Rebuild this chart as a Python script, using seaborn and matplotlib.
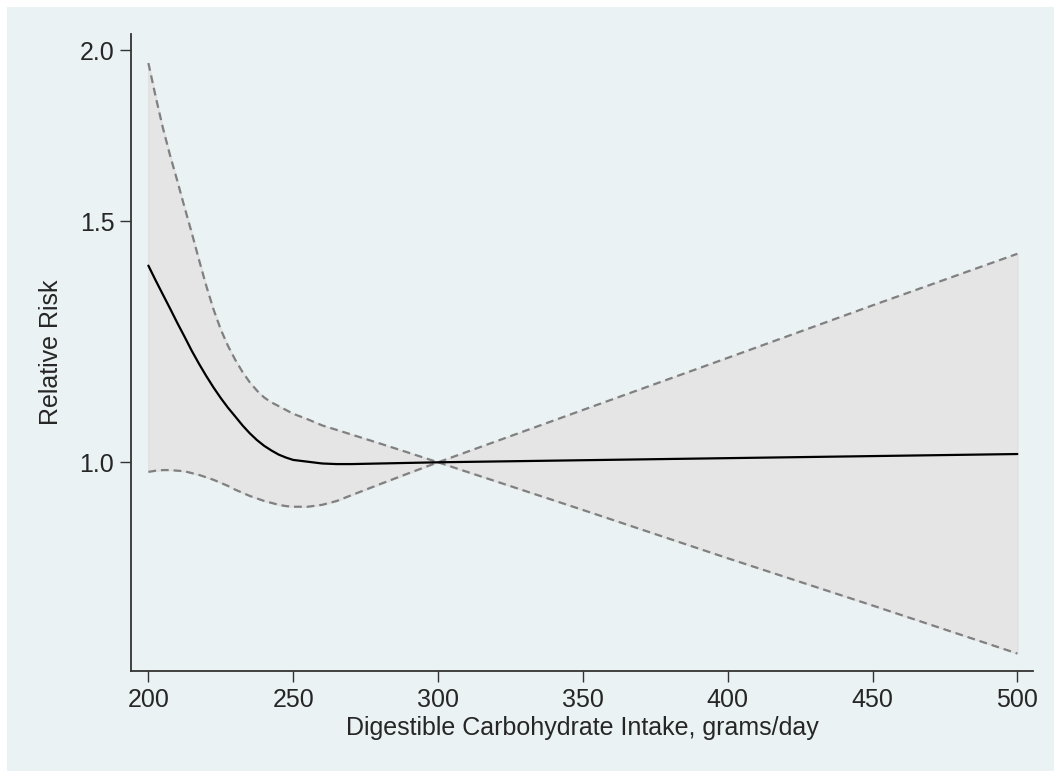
import numpy as np
import pandas as pd
import matplotlib
matplotlib.use("Agg")
import matplotlib.pyplot as plt
import seaborn as sns

# values (relative risk vs carbohydrate intake)
intake = [200, 202.5, 205, 207.5, 210, 212.5, 215, 217.5, 220, 222.5, 225,
          227.5, 230, 232.5, 235, 237.5, 240, 242.5, 245, 247.5, 250, 255,
          260, 265, 270, 280, 290, 300, 350, 400, 450, 500]
rr = [1.392, 1.358, 1.326, 1.295, 1.264, 1.235, 1.206, 1.180, 1.156, 1.134,
      1.114, 1.096, 1.080, 1.064, 1.050, 1.038, 1.028, 1.020, 1.013, 1.008,
      1.004, 1.001, 0.998, 0.997, 0.997, 0.998, 0.999, 1.000, 1.0035, 1.007,
      1.0105, 1.014]
rr_upper = [1.957, 1.850, 1.755, 1.675, 1.605, 1.535, 1.470, 1.405, 1.345,
            1.293, 1.250, 1.216, 1.188, 1.164, 1.144, 1.128, 1.115, 1.106,
            1.099, 1.092, 1.085, 1.075, 1.064, 1.056, 1.048, 1.032, 1.016,
            1.000, 1.092, 1.192, 1.302, 1.420]
rr_lower = [0.984, 0.986, 0.987, 0.987, 0.986, 0.985, 0.982, 0.979, 0.975,
            0.971, 0.966, 0.961, 0.955, 0.950, 0.945, 0.941, 0.937, 0.934,
            0.931, 0.929, 0.928, 0.928, 0.931, 0.937, 0.946, 0.964, 0.982,
            1.000, 0.923, 0.851, 0.786, 0.725]
yticks = [1.0, 1.5, 2.0]
xticks = [200, 250, 300, 350, 400, 450, 500]

df = pd.DataFrame({"intake": intake, "rr": rr, "upper": rr_upper, "lower": rr_lower})

sns.set_style("white")
plt.rcParams["font.family"] = ["Liberation Sans", "DejaVu Sans"]

bg = "#EAF2F3"
fig = plt.figure(figsize=(10.54, 7.71), dpi=100, facecolor=bg)
# thin white margin on the top and left edges
fig.patches.append(plt.Rectangle((0, 1 - 7 / 771), 1, 7 / 771,
                                 transform=fig.transFigure, facecolor="white",
                                 edgecolor="none", zorder=-10))
fig.patches.append(plt.Rectangle((0, 0), 7 / 1054, 1,
                                 transform=fig.transFigure, facecolor="white",
                                 edgecolor="none", zorder=-10))
ax = fig.add_axes([131 / 1054, 1 - 671 / 771, 902 / 1054, 637 / 771])
ax.set_facecolor(bg)

ax.fill_between(df["intake"], df["lower"], df["upper"], color="#E5E5E5",
                edgecolor="#E0E0E0", linewidth=1, zorder=1)
sns.lineplot(data=df, x="intake", y="upper", ax=ax, color="#808080",
             linewidth=1.6, dashes=(3.5, 2.2), zorder=2)
sns.lineplot(data=df, x="intake", y="lower", ax=ax, color="#808080",
             linewidth=1.6, dashes=(3.5, 2.2), zorder=2)
sns.lineplot(data=df, x="intake", y="rr", ax=ax, color="black",
             linewidth=1.6, zorder=3)

ax.set_yscale("log")
ax.set_xlim(194, 505.4)
ax.set_ylim(0.704, 2.055)
ax.set_yticks(yticks)
ax.set_yticklabels([f"{v:.1f}" for v in yticks])
ax.yaxis.set_minor_locator(matplotlib.ticker.NullLocator())
ax.set_xticks(xticks)
ax.set_xticklabels([str(v) for v in xticks])

for side in ["top", "right"]:
    ax.spines[side].set_visible(False)
for side in ["left", "bottom"]:
    ax.spines[side].set_color("#333333")
    ax.spines[side].set_linewidth(1.3)

ax.tick_params(axis="both", which="major", direction="out", length=8,
               width=1.0, color="#333333", labelsize=18, pad=4,
               left=True, bottom=True)
ax.set_xlabel("Digestible Carbohydrate Intake, grams/day", fontsize=18, labelpad=3)
ax.set_ylabel("Relative Risk", fontsize=18, labelpad=12)

fig.savefig("out.png", dpi=100, facecolor=bg)
